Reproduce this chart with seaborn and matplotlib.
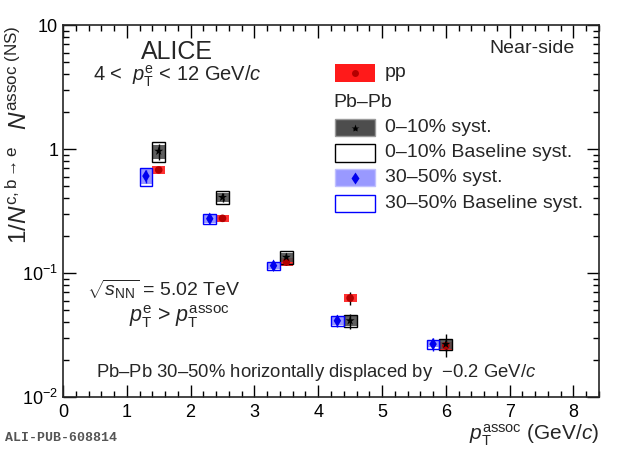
import numpy as np
import pandas as pd
import matplotlib
matplotlib.use("Agg")
import matplotlib.pyplot as plt
import seaborn as sns
from matplotlib.patches import Rectangle
from matplotlib.ticker import FixedLocator, FixedFormatter, MultipleLocator

# pp reference
pp_x = [1.5, 2.5, 3.5, 4.5, 6.0]
pp_y = [0.678, 0.276, 0.123, 0.0628, 0.0259]
pp_stat = [0.03, 0.04, 0.06, 0.12, 0.10]
pp_syst = [0.07, 0.07, 0.07, 0.07, 0.07]

# Pb-Pb 0-10%
c010_x = [1.5, 2.5, 3.5, 4.5, 6.0]
c010_y = [0.96, 0.407, 0.134, 0.0412, 0.0266]
c010_stat = [0.15, 0.08, 0.09, 0.14, 0.21]
c010_syst = [0.13, 0.09, 0.09, 0.09, 0.08]
c010_base = [0.18, 0.12, 0.12, 0.11, 0.10]

# Pb-Pb 30-50% (displaced by -0.2)
c3050_x = [1.3, 2.3, 3.3, 4.3, 5.8]
c3050_y = [0.605, 0.274, 0.1145, 0.0412, 0.0267]
c3050_stat = [0.12, 0.08, 0.07, 0.11, 0.12]
c3050_syst = [0.13, 0.07, 0.06, 0.08, 0.06]
c3050_base = [0.17, 0.09, 0.08, 0.10, 0.08]

sns.set_style("ticks")
plt.rcParams["font.family"] = ["Liberation Sans", "DejaVu Sans"]
plt.rcParams["mathtext.fontset"] = "custom"
plt.rcParams["mathtext.rm"] = "Liberation Sans"
plt.rcParams["mathtext.it"] = "Liberation Sans:italic"
plt.rcParams["mathtext.default"] = "it"

fig = plt.figure(figsize=(6.2, 4.49), dpi=100)
ax = fig.add_axes([0.1016, 0.1158, 0.8645, 0.8285])
ax.set_yscale("log")
ax.set_xlim(0, 8.4)
ax.set_ylim(0.01, 10)

hw = 0.1  # half width of syst boxes


def boxes(xs, ys, rel, **kw):
    for x, y, r in zip(xs, ys, rel):
        ax.add_patch(Rectangle((x - hw, y * (1 - r)), 2 * hw, y * 2 * r, **kw))


# systematic boxes
boxes(pp_x, pp_y, pp_syst, facecolor="#ff1a1a", edgecolor="none", alpha=0.9, zorder=2)
boxes(c010_x, c010_y, c010_syst, facecolor="#4d4d4d", edgecolor="none", alpha=0.9, zorder=3)
boxes(c010_x, c010_y, c010_base, facecolor="none", edgecolor="black", lw=1.0, zorder=3)
boxes(c3050_x, c3050_y, c3050_syst, facecolor="#8c8cff", edgecolor="none", alpha=0.9, zorder=3)
boxes(c3050_x, c3050_y, c3050_base, facecolor="none", edgecolor="#0000ff", lw=1.0, zorder=3)

# statistical errors
for xs, ys, st, col in [(pp_x, pp_y, pp_stat, "black"),
                        (c010_x, c010_y, c010_stat, "black"),
                        (c3050_x, c3050_y, c3050_stat, "#0000ff")]:
    ys = np.array(ys)
    ax.errorbar(xs, ys, yerr=ys * np.array(st), fmt="none", ecolor=col,
                elinewidth=1.0, capsize=0, zorder=4)

# markers
sns.scatterplot(x=pp_x, y=pp_y, ax=ax, marker="o", s=30, color="#b30000",
                edgecolor="none", zorder=5)
sns.scatterplot(x=c010_x, y=c010_y, ax=ax, marker="*", s=45, color="black",
                edgecolor="none", zorder=5)
sns.scatterplot(x=c3050_x, y=c3050_y, ax=ax, marker="d", s=40, color="#0000ee",
                edgecolor="none", zorder=5)

# axes styling
ax.xaxis.set_major_locator(MultipleLocator(1))
ax.xaxis.set_minor_locator(MultipleLocator(0.2))
ax.yaxis.set_major_locator(FixedLocator([0.01, 0.1, 1, 10]))
ax.yaxis.set_major_formatter(FixedFormatter(["$\\mathregular{10^{-2}}$",
                                             "$\\mathregular{10^{-1}}$", "1", "10"]))
minor = [m * 10.0 ** e for e in range(-2, 1) for m in range(2, 10)]
ax.yaxis.set_minor_locator(FixedLocator(minor))
ax.yaxis.set_minor_formatter(FixedFormatter([""] * len(minor)))
ax.tick_params(which="both", direction="in", top=True, right=True, width=1.0,
               labelsize=13, colors="black")
ax.tick_params(which="major", length=9)
ax.tick_params(which="minor", length=4.5)
ax.tick_params(axis="x", pad=5)
for sp in ax.spines.values():
    sp.set_linewidth(1.2)

ax.set_xlabel("$p_{\\rm T}^{\\rm assoc}$ (GeV/$c$)", fontsize=15, loc="right", labelpad=1)
ax.set_ylabel("$\\mathregular{1/}N^{\\rm c,b\\rightarrow e}\\;\\;\\;N^{\\rm assoc\\ (NS)}$",
              fontsize=17.5, loc="top")
ax.yaxis.set_label_coords(-0.058, 1.0)

# annotations
ta = ax.transAxes
ax.text(0.213, 0.927, "ALICE", transform=ta, ha="center", va="center", fontsize=18)
ax.text(0.213, 0.862, "4 <  $p_{\\rm T}^{\\rm e}$ < 12 GeV/$c$", transform=ta,
        ha="center", va="center", fontsize=14.5)
ax.text(0.955, 0.938, "Near-side", transform=ta, ha="right", va="center", fontsize=14)
ax.text(0.045, 0.29, "$\\sqrt{s_{\\rm NN}}$ = 5.02 TeV", transform=ta,
        ha="left", va="center", fontsize=14)
ax.text(0.218, 0.215, "$p_{\\rm T}^{\\rm e}$ > $p_{\\rm T}^{\\rm assoc}$", transform=ta,
        ha="center", va="center", fontsize=15.5)
ax.text(0.062, 0.067, "Pb\u2013Pb 30\u201350% horizontally displaced by  \u22120.2 GeV/$c$",
        transform=ta, ha="left", va="center", fontsize=13.3)

# legend (drawn by hand, ROOT style)
lx0, lx1, ltx = 0.5075, 0.582, 0.601
bh = 0.046
rows = [0.871, 0.792, 0.724, 0.656, 0.589, 0.521]
entries = [
    ("pp", dict(facecolor="#ff1a1a", edgecolor="none"), ("o", "#b30000", 5)),
    ("Pb\u2013Pb", None, None),
    ("0\u201310% syst.", dict(facecolor="#4d4d4d", edgecolor="#9a9a9a"), ("*", "black", 6)),
    ("0\u201310% Baseline syst.", dict(facecolor="white", edgecolor="black"), None),
    ("30\u201350% syst.", dict(facecolor="#9999ff", edgecolor="#c0c0ff"), ("d", "#0000ee", 6)),
    ("30\u201350% Baseline syst.", dict(facecolor="white", edgecolor="#0000ff"), None),
]
for yr, (lab, st, mk) in zip(rows, entries):
    if st is None:
        ax.text(lx0 - 0.003, yr, lab, transform=ta, ha="left", va="center", fontsize=14)
        continue
    ax.add_patch(Rectangle((lx0, yr - bh / 2), lx1 - lx0, bh, transform=ta,
                           lw=1.0, zorder=6, **st))
    if mk is not None:
        ax.plot([(lx0 + lx1) / 2], [yr], marker=mk[0], color=mk[1], ms=mk[2],
                mec="none", transform=ta, zorder=7)
    ax.text(ltx, yr, lab, transform=ta, ha="left", va="center", fontsize=14)

fig.text(0.008, 0.024, "ALI-PUB-608814", fontsize=9.5, color="#555555",
         family=["Liberation Mono", "DejaVu Sans Mono"], weight="bold",
         ha="left", va="center")

fig.savefig("out.png", dpi=100)
